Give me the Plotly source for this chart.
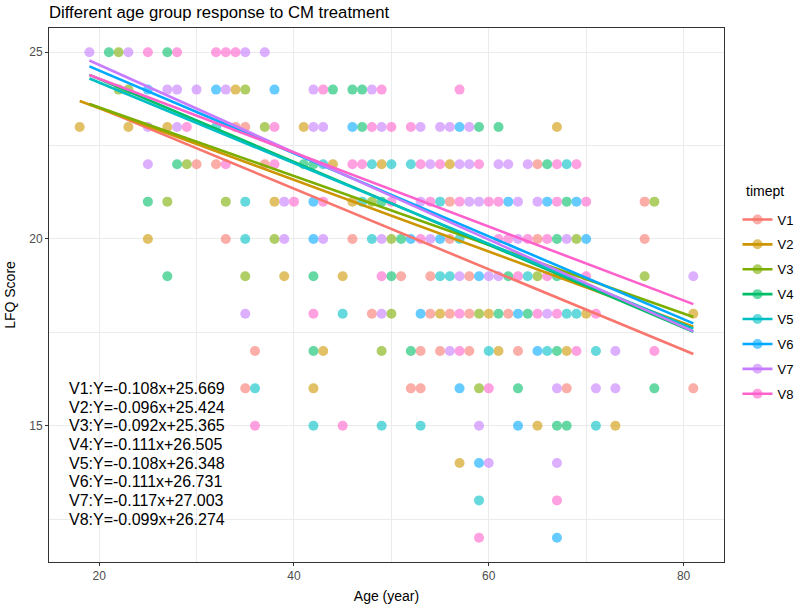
import plotly.graph_objects as go

# ---------------- data ----------------
groups = ["V1", "V2", "V3", "V4", "V5", "V6", "V7", "V8"]
colors = ["#F8766D", "#CD9600", "#7CAE00", "#00BE67", "#00BFC4", "#00A9FF", "#C77CFF", "#FF61CC"]

v1_age = [34, 35, 30, 32, 37, 65, 56, 76, 33, 46, 56, 65, 76, 51, 54, 58, 48, 54, 56, 58, 62, 36, 53, 55, 58, 63, 35, 52, 53, 68, 81]
v1_lfq = [23, 23, 22, 22, 22, 22, 21, 21, 20, 20, 20, 20, 20, 19, 19, 19, 18, 18, 18, 18, 18, 17, 17, 17, 17, 17, 16, 16, 16, 16, 16]

v2_age = [34, 18, 23, 27, 41, 67, 44, 49, 56, 38, 46, 25, 39, 45, 55, 60, 70, 81, 43, 61, 68, 42, 65, 73, 57]
v2_lfq = [24, 23, 23, 23, 23, 23, 22, 22, 22, 21, 21, 20, 19, 19, 18, 18, 18, 18, 17, 17, 17, 16, 15, 15, 14]

v3_age = [22, 22, 23, 35, 37, 29, 27, 33, 48, 77, 38, 50, 69, 35, 65, 76, 50, 59, 49, 59]
v3_lfq = [25, 24, 24, 24, 23, 22, 21, 21, 21, 21, 20, 20, 20, 19, 19, 19, 18, 18, 17, 16]

v4_age = [21, 27, 44, 46, 47, 47, 59, 61, 28, 41, 42, 66, 25, 49, 68, 51, 67, 27, 42, 50, 62, 67, 61, 64, 42, 52, 67, 63, 77, 67, 68]
v4_lfq = [25, 25, 24, 24, 24, 23, 23, 23, 22, 22, 22, 22, 21, 21, 21, 20, 20, 19, 19, 19, 19, 19, 18, 18, 17, 17, 17, 16, 16, 15, 15]

v5_age = [32, 43, 48, 50, 52, 68, 35, 47, 55, 35, 48, 57, 55, 56, 64, 45, 68, 69, 60, 66, 71, 36, 42, 49, 53, 71, 59]
v5_lfq = [23, 22, 22, 22, 22, 22, 21, 21, 21, 20, 20, 20, 19, 19, 19, 18, 18, 18, 17, 17, 17, 16, 15, 15, 15, 15, 13]

v6_age = [25, 32, 38, 46, 57, 42, 62, 66, 69, 42, 52, 55, 70, 59, 53, 63, 65, 57, 63, 59, 67]
v6_lfq = [24, 24, 24, 23, 23, 21, 21, 21, 21, 20, 20, 20, 20, 19, 18, 18, 17, 16, 15, 14, 12]

v7_age = [19, 23, 35, 37, 27, 28, 30, 33, 42, 48, 25, 28, 42, 43, 49, 53, 55, 56, 58, 25, 54, 57, 58, 61, 62, 64,
          39, 53, 58, 59, 63, 65, 39, 43, 49, 54, 63, 68, 57, 60, 61, 81, 35, 49, 66, 56, 73, 67, 71, 73, 59, 60, 67]
v7_lfq = [25, 25, 25, 25, 24, 24, 24, 24, 24, 24, 23, 23, 23, 23, 23, 23, 23, 23, 23, 22, 22, 22, 22, 22, 22, 22,
          21, 21, 21, 21, 21, 21, 20, 20, 20, 20, 20, 20, 19, 19, 19, 19, 18, 18, 18, 17, 17, 16, 16, 16, 15, 14, 14]

v8_age = [25, 28, 32, 33, 34, 43, 49, 57, 29, 38, 48, 50, 52, 33, 38, 46, 47, 53, 55, 59, 67, 69, 40, 43, 50, 54, 57,
          60, 61, 67, 70, 53, 61, 62, 64, 66, 49, 63, 66, 70, 42, 57, 65, 67, 71, 57, 69, 77, 60, 36, 45, 67, 59]
v8_lfq = [25, 25, 25, 25, 25, 24, 24, 24, 23, 23, 23, 23, 23, 22, 22, 22, 22, 22, 22, 22, 22, 22, 21, 21, 21, 21, 21,
          21, 21, 21, 21, 20, 20, 20, 20, 20, 19, 19, 19, 19, 18, 18, 18, 18, 18, 17, 17, 17, 16, 15, 15, 13, 12]

# regression fits (from the chart's equations) and fitted age ranges
slopes = [-0.108, -0.096, -0.092, -0.111, -0.108, -0.111, -0.117, -0.099]
intercepts = [25.669, 25.424, 25.365, 26.505, 26.348, 26.731, 27.003, 26.274]
fit_start = [19, 18, 19, 19, 19, 19, 19, 19]
fit_end = [81, 81, 81, 81, 81, 81, 81, 81]

ages = [v1_age, v2_age, v3_age, v4_age, v5_age, v6_age, v7_age, v8_age]
scores = [v1_lfq, v2_lfq, v3_lfq, v4_lfq, v5_lfq, v6_lfq, v7_lfq, v8_lfq]

x_ticks = [20, 40, 60, 80]
y_ticks = [15, 20, 25]


def rgba(hex_color, a):
    h = hex_color.lstrip("#")
    r, g, b = int(h[0:2], 16), int(h[2:4], 16), int(h[4:6], 16)
    return f"rgba({r},{g},{b},{a})"


FONT = "Liberation Sans, Arial, Helvetica, sans-serif"
ALPHA = 0.6

fig = go.Figure()

# points
for g, c, xa, ya in zip(groups, colors, ages, scores):
    fig.add_trace(go.Scatter(
        x=xa, y=ya, mode="markers", showlegend=False, name=g,
        marker=dict(size=10, color=rgba(c, ALPHA), line=dict(width=0)),
        hoverinfo="skip",
    ))

# regression lines
for g, c, m, b, x0, x1 in zip(groups, colors, slopes, intercepts, fit_start, fit_end):
    xs = [x0, x1]
    ys = [m * v + b for v in xs]
    fig.add_trace(go.Scatter(
        x=xs, y=ys, mode="lines", showlegend=False, name=g,
        line=dict(color=c, width=2.6), hoverinfo="skip",
    ))

# legend entries (line + point key like ggplot)
for g, c in zip(groups, colors):
    fig.add_trace(go.Scatter(
        x=[None], y=[None], mode="lines+markers", name=g, legendgroup=g,
        line=dict(color=c, width=2.6),
        marker=dict(size=10, color=rgba(c, ALPHA), line=dict(width=0)),
    ))

# equation text
annotations = []
for i, (g, m, b) in enumerate(zip(groups, slopes, intercepts)):
    annotations.append(dict(
        x=16.7, y=16 - 0.5 * i, xref="x", yref="y",
        text=f"{g}:Y={m:.3f}x+{b:.3f}", showarrow=False,
        xanchor="left", yanchor="middle",
        font=dict(family=FONT, size=16, color="black"),
    ))

# legend title
annotations.append(dict(
    x=1.03, y=0.695, xref="paper", yref="paper", text="timept",
    showarrow=False, xanchor="left", yanchor="middle",
    font=dict(family=FONT, size=14, color="black"),
))

grid_c = "#EBEBEB"
axis_common = dict(
    showline=True, mirror=True, linecolor="#333333", linewidth=1,
    ticks="outside", ticklen=3, tickcolor="#333333", tickwidth=1,
    tickfont=dict(family=FONT, size=12, color="#4D4D4D"),
    showgrid=True, gridcolor=grid_c, gridwidth=1.1, zeroline=False,
)

fig.update_layout(
    width=797, height=607,
    margin=dict(l=49, r=73, t=28, b=45, autoexpand=False),
    paper_bgcolor="white", plot_bgcolor="white",
    font=dict(family=FONT),
    title=dict(
        text="Different age group response to CM treatment",
        x=49 / 797, xref="container", xanchor="left",
        y=1 - 6 / 607, yref="container", yanchor="top",
        pad=dict(t=0, b=0, l=0, r=0),
        font=dict(family=FONT, size=16.7, color="black"),
    ),
    xaxis=dict(
        range=[14.85, 84.15], tickvals=x_ticks,
        minor=dict(dtick=10, tick0=0, showgrid=True, gridcolor=grid_c, gridwidth=0.55, ticks=""),
        title=dict(text="Age (year)", font=dict(family=FONT, size=14, color="black"), standoff=8),
        **axis_common,
    ),
    yaxis=dict(
        range=[11.35, 25.65], tickvals=y_ticks,
        minor=dict(dtick=2.5, tick0=0, showgrid=True, gridcolor=grid_c, gridwidth=0.55, ticks=""),
        title=dict(text="LFQ Score", font=dict(family=FONT, size=14, color="black"), standoff=10),
        **axis_common,
    ),
    legend=dict(
        font=dict(family=FONT, size=13, color="black"),
        x=1.02, xanchor="left", y=0.6695, yanchor="top",
        tracegroupgap=5, bgcolor="rgba(0,0,0,0)",
    ),
    annotations=annotations,
)

fig.write_html("out.html", config={"displayModeBar": False},
               post_script="document.body.style.margin='0px';")
